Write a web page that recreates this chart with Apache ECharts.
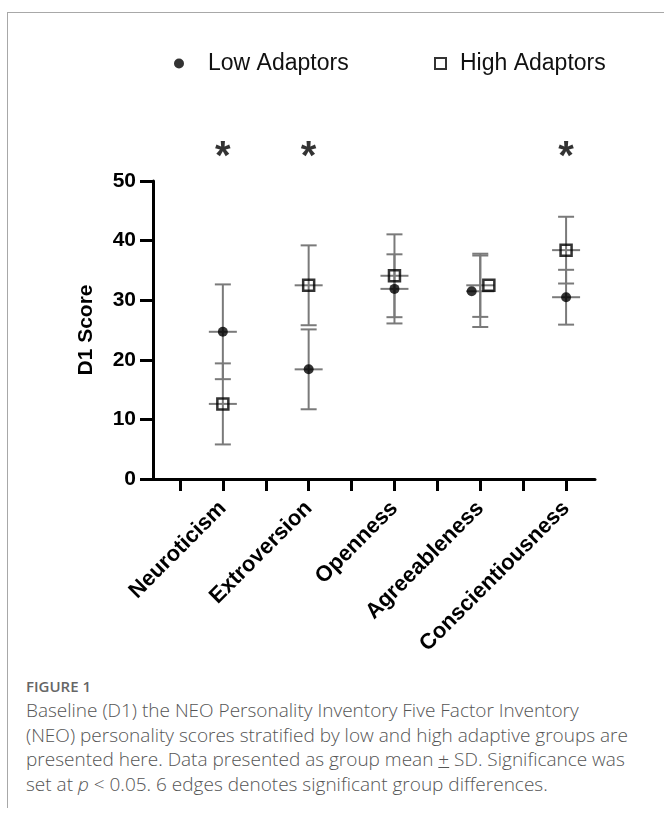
<!DOCTYPE html>
<html>
<head>
<meta charset="utf-8">
<script src="https://cdn.jsdelivr.net/npm/echarts@6/dist/echarts.min.js"></script>
<style>
  html, body { margin: 0; padding: 0; background: #fff; }
  #frame { position: absolute; left: 7px; top: 12px; width: 680px; height: 796px;
           border-left: 1px solid #a8a8a8; border-top: 1px solid #a8a8a8; box-sizing: border-box; }
  #chart { position: absolute; left: 0; top: 0; width: 664px; height: 670px; }
  #caption { position: absolute; left: 26px; top: 675px; width: 700px; color: #555;
             font-family: "Open Sans", sans-serif; }
  #caption .fig { font-size: 15px; font-weight: 600; color: #666; line-height: 23px; }
  #caption .body { font-size: 19px; font-weight: 300; line-height: 24.5px; white-space: nowrap; }
</style>
</head>
<body>
<div id="frame"></div>
<div id="chart"></div>
<div id="caption">
  <div class="fig">FIGURE 1</div>
  <div class="body">Baseline (D1) the NEO Personality Inventory Five Factor Inventory<br>(NEO) personality scores stratified by low and high adaptive groups are<br>presented here. Data presented as group mean <u>+</u> SD. Significance was<br>set at <i>p</i> &lt; 0.05. 6 edges denotes significant group differences.</div>
</div>
<script>
// ---- data ----
const categories = ['Neuroticism', 'Extroversion', 'Openness', 'Agreeableness', 'Conscientiousness'];
const lowMean  = [24.7, 18.4, 31.9, 31.5, 30.5];
const lowSD    = [7.95, 6.7, 5.8, 6.0, 4.6];
const highMean = [12.6, 32.5, 34.1, 32.5, 38.4];
const highSD   = [6.8, 6.7, 6.95, 5.3, 5.6];
const significant = [true, true, false, false, true];
const yTicks = [0, 10, 20, 30, 40, 50];

// ---- layout helpers (not data) ----
const lowNudge  = [0, 0, 0, -0.1, 0];
const highNudge = [0, 0, 0, 0.1, 0];
const starLevel = 55.4;

const chart = echarts.init(document.getElementById('chart'), null, { renderer: 'canvas' });

function errRender(params, api) {
  const i = api.value(0), m = api.value(1), sd = api.value(2);
  const c = api.coord([i, m]);
  const top = api.coord([i, m + sd]);
  const bot = api.coord([i, m - sd]);
  const st = { stroke: '#7a7a7a', lineWidth: 2 };
  return {
    type: 'group',
    children: [
      { type: 'line', shape: { x1: c[0], y1: top[1], x2: c[0], y2: bot[1] }, style: st },
      { type: 'line', shape: { x1: c[0] - 8, y1: top[1], x2: c[0] + 8, y2: top[1] }, style: st },
      { type: 'line', shape: { x1: c[0] - 8, y1: bot[1], x2: c[0] + 8, y2: bot[1] }, style: st },
      { type: 'line', shape: { x1: c[0] - 14, y1: c[1], x2: c[0] + 14, y2: c[1] }, style: st }
    ]
  };
}

const labelFont = 'Liberation Sans, Arial, Helvetica, sans-serif';

chart.setOption({
  animation: false,
  backgroundColor: 'transparent',
  legend: [
    { data: ['Low Adaptors'], left: 169, top: 47, itemWidth: 10, itemHeight: 10,
      textStyle: { fontFamily: labelFont, fontSize: 23, color: '#111', padding: [0, 0, 0, 19] } },
    { data: ['High Adaptors'], left: 429, top: 47, itemWidth: 11, itemHeight: 11,
      textStyle: { fontFamily: labelFont, fontSize: 23, color: '#111', padding: [0, 0, 0, 9] } }
  ],
  grid: { left: 153, top: 181, width: 442, height: 298 },
  xAxis: {
    type: 'value', min: -0.814, max: 4.337,
    axisLine: { show: true, onZero: false, lineStyle: { color: '#000', width: 3 } },
    axisTick: { show: true, length: 12, lineStyle: { color: '#000', width: 3 },
      customValues: [-0.5, 0, 0.5, 1, 1.5, 2, 2.5, 3, 3.5, 4] },
    axisLabel: { show: true, customValues: [0, 1, 2, 3, 4], rotate: 45, margin: 26,
      formatter: v => categories[Math.round(v)],
      fontFamily: labelFont, fontWeight: 'bold', fontSize: 22, color: '#000' },
    splitLine: { show: false }
  },
  yAxis: {
    type: 'value', min: 0, max: 50, interval: 10,
    name: 'D1 Score', nameLocation: 'middle', nameRotate: 90, nameGap: 56,
    nameTextStyle: { fontFamily: labelFont, fontWeight: 'bold', fontSize: 21, color: '#000' },
    axisLine: { show: true, onZero: false, lineStyle: { color: '#000', width: 3 } },
    axisTick: { show: true, length: 13, lineStyle: { color: '#000', width: 3 } },
    axisLabel: { margin: 17, fontFamily: labelFont, fontWeight: 'bold', fontSize: 21, color: '#000',
      customValues: yTicks },
    splitLine: { show: false }
  },
  series: [
    { name: 'lowErr', type: 'custom', renderItem: errRender, z: 1,
      data: categories.map((c, i) => [i, lowMean[i], lowSD[i]]) },
    { name: 'highErr', type: 'custom', renderItem: errRender, z: 1,
      data: categories.map((c, i) => [i, highMean[i], highSD[i]]) },
    { name: 'Low Adaptors', type: 'scatter', symbol: 'circle', symbolSize: 10, z: 3,
      itemStyle: { color: '#000' },
      data: categories.map((c, i) => [i + lowNudge[i], lowMean[i]]) },
    { name: 'High Adaptors', type: 'scatter', symbol: 'rect', symbolSize: 11, z: 4,
      itemStyle: { color: 'rgba(255,255,255,0)', borderColor: '#000', borderWidth: 2.5 },
      data: categories.map((c, i) => [i + highNudge[i], highMean[i]]) },
    { name: 'sig', type: 'scatter', symbolSize: 0, clip: false, z: 5,
      label: { show: true, position: 'inside', formatter: '*', fontFamily: labelFont,
               fontWeight: 'bold', fontSize: 40, color: '#000', offset: [0, 9] },
      data: categories.map((c, i) => [i, starLevel]).filter((d, i) => significant[i]) }
  ]
});
</script>
</body>
</html>
